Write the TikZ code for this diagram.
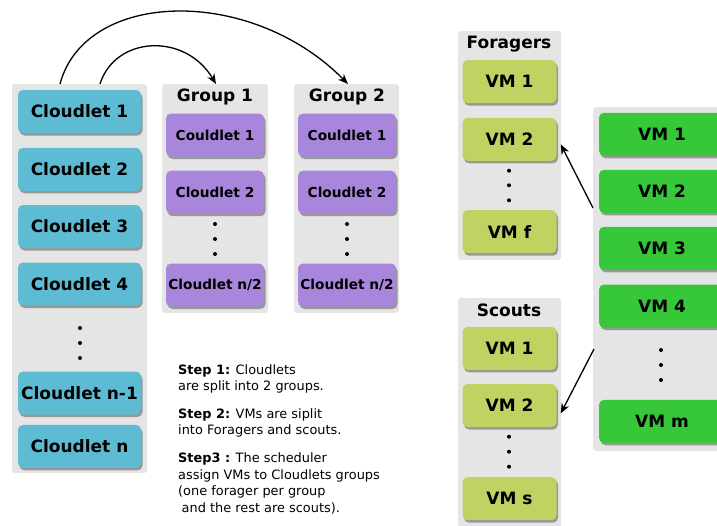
\documentclass[tikz,border=0pt]{standalone}
\usepackage{fontspec}
\setmainfont{DejaVu Sans}
\usetikzlibrary{shadows,arrows.meta}
\definecolor{panelgray}{RGB}{229,229,229}
\definecolor{cloudblue}{RGB}{93,188,211}
\definecolor{grpviolet}{RGB}{167,134,220}
\definecolor{forgreen}{RGB}{190,211,98}
\definecolor{vmgreen}{RGB}{55,200,58}

\begin{document}
\begin{tikzpicture}[x=1pt,y=-1pt,
  cell/.style={rounded corners=5pt, minimum height=43pt, inner sep=0pt, font=\bfseries\fontsize{17}{20}\selectfont,
    drop shadow={shadow xshift=1.5pt, shadow yshift=-2.5pt, opacity=.5, fill=black!70}},
  cloud/.style={cell, fill=cloudblue, minimum width=123pt},
  half/.style={cell, fill=grpviolet, minimum width=98pt, font=\bfseries\fontsize{13.7}{16}\selectfont},
  forvm/.style={cell, fill=forgreen, minimum width=94pt},
  allvm/.style={cell, fill=vmgreen, minimum width=126pt},
  panel/.style={fill=panelgray, rounded corners=3pt},
  title/.style={font=\bfseries\fontsize{17}{20}\selectfont},
  steps/.style={align=left, inner sep=0pt, font=\fontsize{12.9}{16.6}\selectfont},
  arr/.style={-{Stealth[length=10pt,width=8pt,inset=3pt]}, line width=1.3pt}]
\useasboundingbox (0,0) rectangle (717,525);
\clip (0,0) rectangle (717,525);

% grey columns
\fill[panel] (12,84) rectangle (147,473);
\fill[panel] (162,84) rectangle (268,313);
\fill[panel] (294,84) rectangle (399,313);
\fill[panel] (458,31) rectangle (561,260);
\fill[panel] (458,298) rectangle (561,530);
\fill[panel] (593,107) rectangle (740,451);

% cloudlets
\node[cloud] (cl1) at (79.5,111.5) {Cloudlet 1};
\node[cloud] (cl2) at (79.5,169.3) {Cloudlet 2};
\node[cloud] (cl3) at (79.5,226.5) {Cloudlet 3};
\node[cloud] (cl4) at (79.5,284) {Cloudlet 4};
\foreach \y in {328,343,358} \fill (80,\y) circle (2pt);
\node[cloud] (clm) at (79.5,393) {Cloudlet n-1};
\node[cloud] (cln) at (79.5,446.4) {Cloudlet n};

% the two groups
\node[title] (grp1) at (215,97) {Group 1};
\node[half] (ga1) at (215,135) {Couldlet 1};
\node[half] (ga2) at (215,192.2) {Cloudlet 2};
\foreach \y in {224,239,254} \fill (215,\y) circle (2pt);
\node[half] (gan) at (215,285) {Cloudlet n/2};
\node[title] (grp2) at (347,97) {Group 2};
\node[half] (gb1) at (347,135) {Couldlet 1};
\node[half] (gb2) at (347,192.2) {Cloudlet 2};
\foreach \y in {224,239,254} \fill (347,\y) circle (2pt);
\node[half] (gbn) at (347,285) {Cloudlet n/2};

\coordinate (o1) at (60,84); \coordinate (o2) at (100,84);
\coordinate (t1) at (216,84); \coordinate (t2) at (348,84);
\draw[arr] (o1) .. controls (85,-10) and (250,-15) .. (t2);
\draw[arr] (o2) .. controls (115,36) and (185,32) .. (t1);

% foragers and scouts
\node[title] (forg) at (509,44) {Foragers};
\node[forvm] (fv1) at (509.5,81.7) {VM 1};
\node[forvm] (fv2) at (509.5,139.3) {VM 2};
\foreach \y in {170.7,185.3,200.3} \fill (509,\y) circle (2pt);
\node[forvm] (fvf) at (509.5,231.7) {VM f};
\node[title] (scts) at (509,310) {Scouts};
\node[forvm] (sv1) at (509.5,348.3) {VM 1};
\node[forvm] (sv2) at (509.5,405.5) {VM 2};
\foreach \y in {436.7,451.7,466.7} \fill (509,\y) circle (2pt);
\node[forvm] (svs) at (509.5,498.7) {VM s};

% all VMs
\node[allvm] (vm1) at (662,134.3) {VM 1};
\node[allvm] (vm2) at (662,191.3) {VM 2};
\node[allvm] (vm3) at (662,248.3) {VM 3};
\node[allvm] (vm4) at (662,306) {VM 4};
\foreach \y in {350,365,380} \fill (661,\y) circle (2pt);
\node[allvm] (vmm) at (662,421.3) {VM m};

\coordinate (fa) at (593,208); \coordinate (sa) at (594,349);
\draw[arr] (fa) -- ([xshift=4pt,yshift=-5pt]fv2.east);
\draw[arr] (sa) -- ([xshift=4pt,yshift=-8pt]sv2.east);

\node[steps, anchor=north west] (stp) at (178,364) {\textbf{Step 1:} Cloudlets\\are split into 2 groups.\\[11pt]
  \textbf{Step 2:} VMs are siplit\\into Foragers and scouts.\\[11pt]
  \textbf{Step3 :} The scheduler\\assign VMs to Cloudlets groups\\(one forager per group\\\hspace*{3.5pt}and the rest are scouts).};
\end{tikzpicture}
\end{document}
